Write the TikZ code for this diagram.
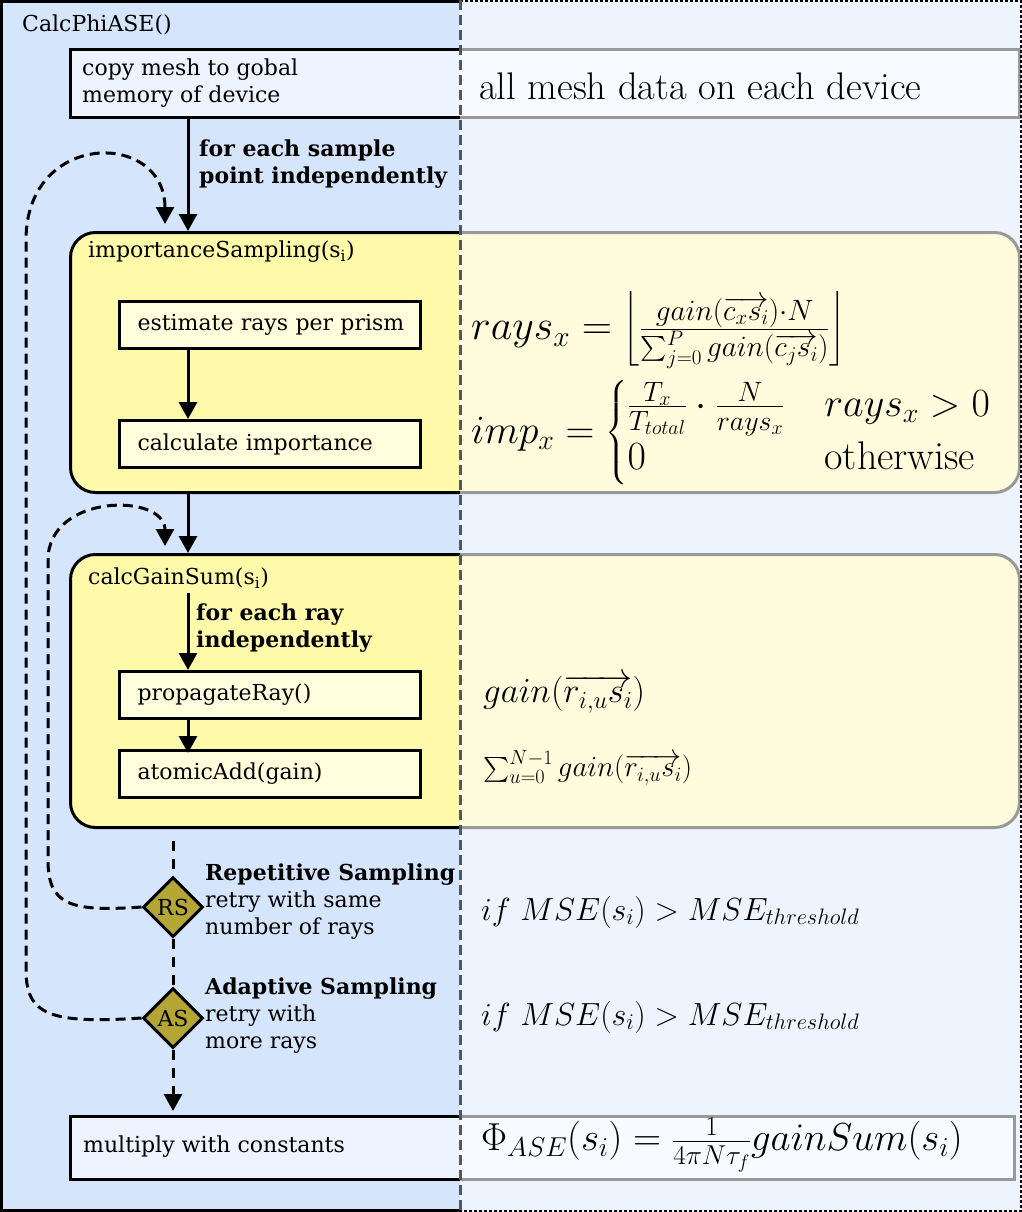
\RequirePackage{fix-cm}
\documentclass[tikz,border=0pt]{standalone}
\usepackage{amsmath}
\usepackage{fontspec}
\usetikzlibrary{arrows.meta,shapes.geometric,calc}
\newfontfamily\dejavu{DejaVu Serif}
\definecolor{hostblue}{RGB}{213,229,252}
\definecolor{boxblue}{RGB}{238,244,255}
\definecolor{stageyellow}{RGB}{255,249,170}
\definecolor{taskyellow}{RGB}{255,255,222}
\definecolor{decisionolive}{RGB}{180,166,52}
\definecolor{dividergrey}{RGB}{80,86,100}
\newcommand\boxfont{\dejavu\fontsize{22}{27}\selectfont}
\newcommand\eqfont[1]{\fontsize{#1}{#1}\selectfont}
\tikzset{
  flowbox/.style={draw, line width=3pt, fill=boxblue, anchor=north west, inner sep=0pt},
  stagebox/.style={draw, line width=3pt, fill=stageyellow, rounded corners=25pt, anchor=north west, inner sep=0pt},
  taskbox/.style={draw, line width=3pt, fill=taskyellow, anchor=north west, minimum width=301pt, minimum height=47pt, text width=265pt, inner xsep=18pt, align=left, font=\boxfont},
  decision/.style={diamond, draw, line width=3pt, fill=decisionolive, minimum width=60pt, minimum height=60pt, inner sep=0pt, font=\boxfont},
  flowarrow/.style={line width=3pt, -{Triangle[length=17pt,width=18pt]}},
  retryloop/.style={line width=3pt, dash pattern=on 10pt off 6pt, -{Triangle[length=17pt,width=18pt]}},
  checkline/.style={line width=3pt, dash pattern=on 10pt off 8pt},
  label/.style={anchor=west, align=left, font=\boxfont, inner sep=0pt}
}

\begin{document}
\begin{tikzpicture}[x=1pt, y=-1pt]
\useasboundingbox (0,0) rectangle (1022,1212);

% 1. HOST BACKGROUND
\fill[hostblue] (0,0) rectangle (1022,1212);
\node[label] (hosttitle) at (22,25) {CalcPhiASE()};
\coordinate (axis) at (188,0);

% 2. MESH COPY
\node[flowbox, minimum width=949pt, minimum height=68pt] (copybox) at (69,48) {};
\node[label] (copytext) at (82,83) {copy mesh to gobal\\memory of device};

% 3. IMPORTANCE SAMPLING
\node[stagebox, minimum width=949pt, minimum height=260pt] (impbox) at (69,231) {};
\node[label] (imptitle) at (88,252) {importanceSampling(s\textsubscript{i})};
\node[taskbox] (estbox) at (118,300) {\mbox{estimate rays per prism}};
\node[taskbox] (calcbox) at (118,419) {\mbox{calculate importance}};

% 4. GAIN SUM
\node[stagebox, minimum width=949pt, minimum height=273pt] (gainbox) at (69,553) {};
\node[label] (gaintitle) at (88,578) {calcGainSum(s\textsubscript{i})};
\coordinate (raystart) at (188,593);
\node[taskbox] (propbox) at (118,670) {\mbox{propagateRay()}};
\node[taskbox] (addbox) at (118,749) {\mbox{atomicAdd(gain)}};

% 5. SAMPLING CHECKS
\node[decision] (rs) at (173,907) {RS};
\node[decision] (as) at (173,1018) {AS};
\node[label] (rstext) at (205,902) {\textbf{Repetitive Sampling}\\retry with same\\number of rays};
\node[label] (astext) at (205,1016) {\textbf{Adaptive Sampling}\\retry with\\more rays};

% 6. CONSTANTS
\node[flowbox, minimum width=944pt, minimum height=63pt] (constbox) at (69,1115) {};
\node[label] (consttext) at (83,1147) {multiply with constants};

% Flow arrows
\draw[flowarrow] (copybox.south -| axis) -- (impbox.north -| axis);
\node[label, font=\boxfont\bfseries] (samplelabel) at (199,164) {for each sample\\point independently};
\draw[flowarrow] (estbox.south -| axis) -- (calcbox.north -| axis);
\draw[flowarrow] (impbox.south -| axis) -- (gainbox.north -| axis);
\draw[flowarrow] (raystart) -- (propbox.north -| axis);
\node[label, font=\boxfont\bfseries] (raylabel) at (196,628) {for each ray\\independently};
\draw[flowarrow] (propbox.south -| axis) -- ([yshift=-4pt]addbox.north -| axis);

% Checks
\draw[checkline, shorten <=12pt] (gainbox.south -| rs) -- (rs.north);
\draw[checkline] (rs.south) -- (as.north);
\draw[checkline, -{Triangle[length=17pt,width=18pt]}, shorten >=4pt] (as.south) -- (constbox.north -| as);

% Retry loops
\coordinate (gainentry) at (165,546);
\coordinate (impentry) at (165,224);
\draw[retryloop] (rs.west) .. controls (70,912) and (48,905) .. (48,860) -- (48,560) .. controls (48,493) and (165,493) .. (gainentry);
\draw[retryloop] (as.west) .. controls (50,1024) and (26,1015) .. (26,970) -- (26,240) .. controls (26,130) and (165,130) .. (impentry);

% 7. DEVICE SIDE OVERLAY
\fill[white, opacity=0.6] (460,0) rectangle (1022,1212);
\draw[line width=3pt] (460,1.5) -- (1.5,1.5) -- (1.5,1210.5) -- (460,1210.5);
\draw[line width=1.5pt, dash pattern=on 3pt off 2pt] (460,1) -- (1021,1) -- (1021,1211) -- (460,1211);
\draw[dividergrey, line width=3pt, dash pattern=on 10pt off 5pt] (460,0) -- (460,1212);

% Device formulas
\node[label, font=\eqfont{38.5}] (meshnote) at (479,86) {all mesh data on each device};
\node[label, font=\eqfont{42}] (raysform) at (471,330) {$rays_x = \left\lfloor \frac{gain(\overrightarrow{c_x s_i})\cdot N}{\sum_{j=0}^{P} gain(\overrightarrow{c_j s_i})}\right\rfloor$};
\node[label, font=\eqfont{40}] (impform) at (471,433) {$imp_x = \begin{cases} \frac{T_x}{T_{total}} \cdot \frac{N}{rays_x} & rays_x > 0\\ 0 & \text{otherwise} \end{cases}$};
\node[label, font=\eqfont{35}] (gainform) at (483,694) {$gain(\overrightarrow{r_{i,u}s_i})$};
\node[label, font=\eqfont{29}] (sumform) at (483,768) {$\sum_{u=0}^{N-1} gain(\overrightarrow{r_{i,u}s_i})$};
\node[label, font=\eqfont{32}] (rsform) at (481,912) {$if\ MSE(s_i) > MSE_{threshold}$};
\node[label, font=\eqfont{32}] (asform) at (481,1017) {$if\ MSE(s_i) > MSE_{threshold}$};
\node[label, font=\eqfont{39}] (phiform) at (481,1145) {$\Phi_{ASE}(s_i) = \frac{1}{4\pi N\tau_f} gainSum(s_i)$};

\end{tikzpicture}
\end{document}
